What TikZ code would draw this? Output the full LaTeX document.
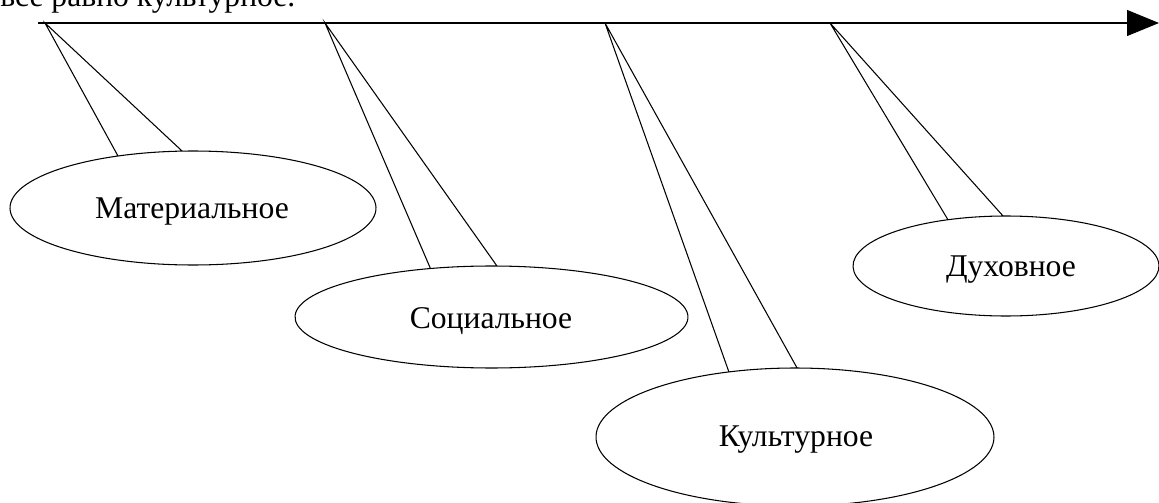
\documentclass[tikz,border=0pt]{standalone}
\usepackage{fontspec}
\setmainfont{Liberation Serif}
\usetikzlibrary{arrows.meta}
\tikzset{
    bubble/.style={draw=black, fill=white, line width=0.6pt, line join=miter},
    wordtext/.style={font=\fontsize{18}{21.6}\selectfont, anchor=base, inner sep=0pt},
    axisline/.style={line width=0.6pt, -{Triangle[length=0.64cm, width=0.52cm]}}
}

\begin{document}
\begin{tikzpicture}
            \clip                                                    ( 0.00, 0.00) rectangle (23.18,10.04);
            \node[wordtext, anchor=base west] (prevline)             at ( 0.00, 9.90) {все равно культурное.};
            % tips on the axis and centres of the ellipses
            \coordinate (start) at ( 0.76, 9.58);
            \coordinate (end)   at (23.18, 9.58);
            \coordinate (tipA)  at ( 0.90, 9.58);
            \coordinate (tipB)  at ( 6.50, 9.58);
            \coordinate (tipC)  at (12.10, 9.58);
            \coordinate (tipD)  at (16.60, 9.58);
            \coordinate (ellA)  at ( 3.86, 5.88);
            \coordinate (ellB)  at ( 9.83, 3.70);
            \coordinate (ellC)  at (15.90, 1.30);
            \coordinate (ellD)  at (20.12, 4.72);
            \draw[bubble] (ellA) ++(93.4:3.66 and 1.14) arc[start angle=93.4, end angle=474.2, x radius=3.66, y radius=1.14] -- (tipA) -- cycle;
            \draw[bubble] (ellB) ++(88.4:3.93 and 1.02) arc[start angle=88.4, end angle=468.1, x radius=3.93, y radius=1.02] -- (tipB) -- cycle;
            \draw[bubble] (ellC) ++(89.4:3.98 and 1.38) arc[start angle=89.4, end angle=469.4, x radius=3.98, y radius=1.38] -- (tipC) -- cycle;
            \draw[bubble] (ellD) ++(91.1:3.06 and 1.00) arc[start angle=91.1, end angle=472.3, x radius=3.06, y radius=1.00] -- (tipD) -- cycle;
            \node[wordtext] (material)  at ( 3.84, 5.66) {Материальное};
            \node[wordtext] (social)    at ( 9.82, 3.48) {Социальное};
            \node[wordtext] (cultural)  at (15.92, 1.12) {Культурное};
            \node[wordtext] (spiritual) at (20.22, 4.50) {Духовное};
            \draw[axisline] (start) -- (end);
\end{tikzpicture}
\end{document}
